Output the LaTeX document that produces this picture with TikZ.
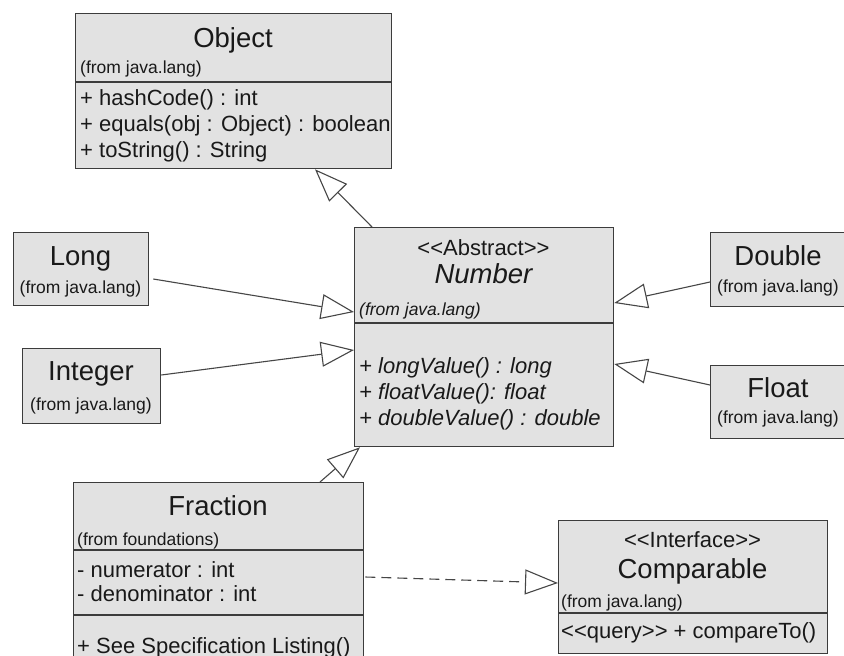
\documentclass[tikz,border=0pt]{standalone}
\usepackage{fontspec}
\setmainfont{Liberation Sans}
\usetikzlibrary{arrows.meta,calc}
\definecolor{boxf}{RGB}{226,226,226}
\definecolor{boxc}{RGB}{60,60,60}
\definecolor{linec}{RGB}{70,70,70}
\definecolor{txt}{RGB}{25,25,25}
\newcommand{\dlt}{<\kern0pt<}
\newcommand{\dgt}{>\kern0pt>}
\begin{document}
\begin{tikzpicture}[x=1pt,y=-1pt,
  cls/.style={draw=boxc, fill=boxf, line width=1.3pt, inner sep=0pt, anchor=north west},
  sepline/.style={draw=boxc, line width=1.3pt},
  ttl/.style={anchor=base, inner sep=0pt, text=txt, font=\fontsize{27.5}{30}\selectfont},
  ster/.style={anchor=base, inner sep=0pt, text=txt, font=\fontsize{22}{24}\selectfont},
  smallc/.style={anchor=base, inner sep=0pt, text=txt, font=\fontsize{17.5}{20}\selectfont},
  smalll/.style={anchor=base west, inner sep=0pt, text=txt, font=\fontsize{17.5}{20}\selectfont},
  memb/.style={anchor=base west, inner sep=0pt, text=txt, font=\fontsize{22}{24}\selectfont},
  gen/.style={draw=linec, line width=1.1pt, -{Triangle[length=33pt, width=25pt, fill=white]}},
  real/.style={gen, dash pattern=on 10pt off 6pt}]
\useasboundingbox (0,0) rectangle (844,656);
\fill[white] (0,0) rectangle (844,656);
\clip (0,0) rectangle (844,656);

% boxes
\node[cls, minimum width=316pt, minimum height=155pt] (obj) at (75,13) {};
\node[cls, minimum width=259pt, minimum height=219pt] (num) at (354,227) {};
\node[cls, minimum width=135pt, minimum height=73pt] (long) at (13,232) {};
\node[cls, minimum width=138pt, minimum height=75pt] (int) at (22,348) {};
\node[cls, minimum width=136pt, minimum height=74pt] (dbl) at (710,232) {};
\node[cls, minimum width=136pt, minimum height=73pt] (flt) at (710,365) {};
\node[cls, minimum width=290pt, minimum height=190pt] (frac) at (73,482) {};
\node[cls, minimum width=269pt, minimum height=133pt] (cmp) at (558,520) {};

% compartment separators
\draw[sepline] (75,82) -- (391,82);
\draw[sepline] (354,323) -- (613,323);
\draw[sepline] (73,550) -- (363,550);
\draw[sepline] (73,615) -- (363,615);
\draw[sepline] (558,613) -- (827,613);

% Object
\node[ttl] (objT) at (233,47) {Object};
\node[smalll] (objF) at (80,73) {(from java.lang)};
\node[memb] (objM1) at (80,105) {+ hashCode() : int};
\node[memb] (objM2) at (80,131) {+ equals(obj : Object) : boolean};
\node[memb] (objM3) at (80,157) {+ toString() : String};

% Number
\node[ster] (numS) at (483.5,255) {\dlt Abstract\dgt};
\node[ttl, font=\fontsize{27.5}{30}\selectfont\itshape] (numT) at (483.5,283) {Number};
\node[smalll, font=\fontsize{17.5}{20}\selectfont\itshape] (numF) at (359,315) {(from java.lang)};
\node[memb, font=\fontsize{22}{24}\selectfont\itshape] (numM1) at (359,373) {+ longValue() : long};
\node[memb, font=\fontsize{22}{24}\selectfont\itshape] (numM2) at (359,399) {+ floatValue(): float};
\node[memb, font=\fontsize{22}{24}\selectfont\itshape] (numM3) at (359,425) {+ doubleValue() : double};

% Long, Integer, Double, Float
\node[ttl] (longT) at (80.5,265) {Long};
\node[smallc] (longF) at (80.5,293) {(from java.lang)};
\node[ttl] (intT) at (91,380) {Integer};
\node[smallc] (intF) at (91,410) {(from java.lang)};
\node[ttl] (dblT) at (778,265) {Double};
\node[smallc] (dblF) at (778,292) {(from java.lang)};
\node[ttl] (fltT) at (778,397) {Float};
\node[smallc] (fltF) at (778,423) {(from java.lang)};

% Fraction
\node[ttl] (fracT) at (218,515) {Fraction};
\node[smalll] (fracF) at (77,545) {(from foundations)};
\node[memb] (fracA1) at (77,577) {- numerator : int};
\node[memb] (fracA2) at (77,601) {- denominator : int};
\node[memb] (fracM1) at (77,653) {+ See Specification Listing()};

% Comparable
\node[ster] (cmpS) at (692.5,547) {\dlt Interface\dgt};
\node[ttl] (cmpT) at (692.5,578) {Comparable};
\node[smalll] (cmpF) at (561,607) {(from java.lang)};
\node[memb] (cmpM) at (561,638) {\dlt query\dgt{} + compareTo()};

% connectors
\draw[gen] ($(num.north west)+(18,0)$) -- ($(obj.south west)+(240,0)$);
\draw[gen] ($(long.north east)+(4,47)$) -- ($(num.north west)+(0,85)$);
\draw[gen] ($(int.north east)+(0,27)$) -- ($(num.north west)+(0,123)$);
\draw[gen] ($(dbl.north west)+(0,50)$) -- ($(num.north east)+(0,76)$);
\draw[gen] ($(flt.north west)+(0,20)$) -- ($(num.north east)+(0,137)$);
\draw[gen] ($(frac.north west)+(247,0)$) -- ($(num.south west)+(6,0)$);
\draw[real] ($(frac.north east)+(1,95)$) -- ($(cmp.north west)+(0,63)$);
\end{tikzpicture}
\end{document}
